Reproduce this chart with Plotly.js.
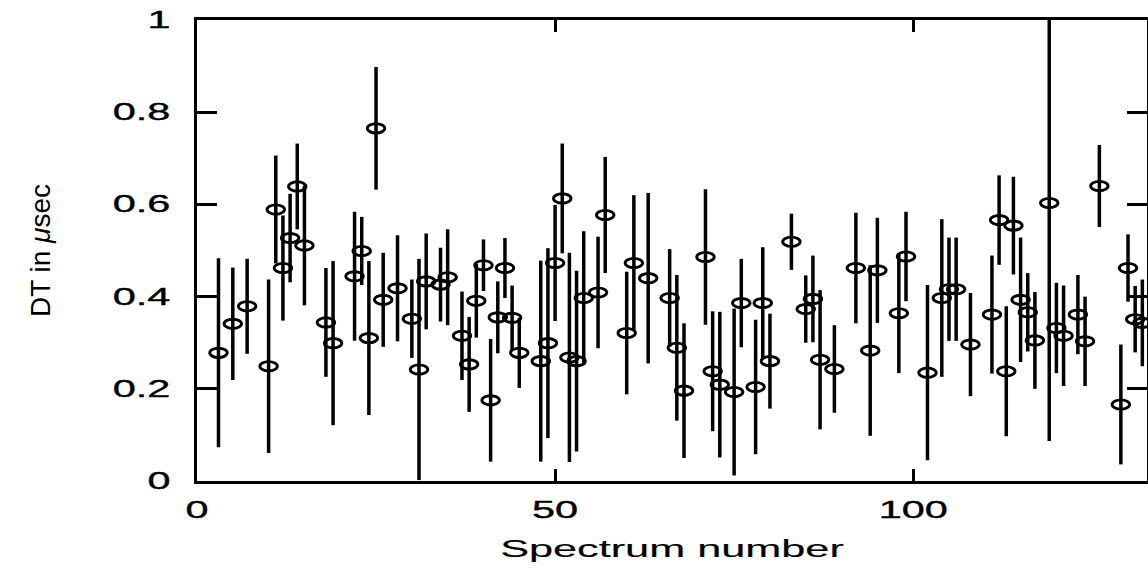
<!DOCTYPE html>
<html>
<head>
<meta charset="utf-8">
<script src="https://cdn.plot.ly/plotly-2.35.2.min.js"></script>
<style>
  html, body { margin: 0; padding: 0; background: #fff; }
  #chart { width: 1148px; height: 572px; }
</style>
</head>
<body>
<div id="chart"></div>
<script>
// Spectrum index of each measurement
const spectrum = [3,5,7,10,11,12,13,14,15,18,19,22,23,24,25,26,28,30,31,32,
  34,35,37,38,39,40,41,42,43,44,45,48,49,50,51,52,53,54,56,57,
  60,61,63,66,67,68,71,72,73,75,76,78,79,80,83,85,86,87,89,92,
  94,95,98,99,102,104,105,106,108,111,112,113,114,115,116,117,119,120,121,123,
  124,126,129,130,131,132];

// DT value (microseconds)
const dt = [0.278,0.341,0.379,0.249,0.589,0.462,0.527,0.639,0.511,0.344,
  0.299,0.444,0.499,0.310,0.765,0.393,0.418,0.352,0.242,0.433,
  0.426,0.442,0.315,0.253,0.391,0.468,0.175,0.355,0.462,0.354,
  0.278,0.260,0.299,0.473,0.613,0.268,0.260,0.397,0.409,0.577,
  0.321,0.473,0.440,0.397,0.289,0.196,0.486,0.238,0.209,0.193,
  0.386,0.204,0.386,0.260,0.519,0.373,0.395,0.263,0.243,0.462,
  0.283,0.457,0.364,0.487,0.235,0.397,0.416,0.416,0.296,0.361,
  0.566,0.238,0.554,0.393,0.366,0.305,0.603,0.332,0.315,0.361,
  0.303,0.640,0.166,0.462,0.351,0.343];

// Symmetric uncertainty on DT
const dtErr = [0.205,0.122,0.103,0.188,0.117,0.114,0.096,0.093,0.130,0.118,
  0.178,0.140,0.074,0.167,0.133,0.102,0.115,0.085,0.240,0.104,
  0.080,0.104,0.096,0.103,0.080,0.056,0.133,0.078,0.065,0.070,
  0.076,0.218,0.206,0.126,0.119,0.227,0.196,0.145,0.121,0.126,
  0.133,0.147,0.185,0.106,0.158,0.146,0.147,0.130,0.158,0.181,
  0.096,0.146,0.121,0.103,0.061,0.073,0.094,0.151,0.095,0.120,
  0.185,0.114,0.130,0.097,0.190,0.171,0.112,0.112,0.112,0.128,
  0.097,0.141,0.106,0.135,0.085,0.105,0.516,0.098,0.109,0.086,
  0.097,0.089,0.130,0.073,0.072,0.094];

const yTickVals = [0, 0.2, 0.4, 0.6, 0.8, 1];
const yTickText = ['0', '0.2', '0.4', '0.6', '0.8', '1'];
const xTickVals = [0, 50, 100];

// open elliptical symbols, sized in axis units
const RX = 1.22, RY = 0.0100;
const ellipses = spectrum.map((x, i) => ({
  type: 'circle', xref: 'x', yref: 'y', layer: 'above',
  x0: x - RX, x1: x + RX, y0: dt[i] - RY, y1: dt[i] + RY,
  line: { color: '#000', width: 2.9 }, fillcolor: 'rgba(0,0,0,0)'
}));

const trace = {
  type: 'scatter', mode: 'markers',
  x: spectrum, y: dt,
  marker: { size: 1, color: 'rgba(0,0,0,0)' },
  error_y: { type: 'data', symmetric: true, array: dtErr,
             color: '#000', thickness: 3.5, width: 0 },
  hoverinfo: 'skip', showlegend: false
};

const tickFont = { family: 'Liberation Sans, Arial, sans-serif', size: 23, color: '#000' };

const layout = {
  width: 1148, height: 572,
  paper_bgcolor: '#fff', plot_bgcolor: '#fff',
  margin: { l: 197, r: 1, t: 20, b: 91 },
  showlegend: false,
  xaxis: {
    range: [0, 132.65], tickvals: xTickVals, ticktext: xTickVals.map(String),
    ticks: 'inside', ticklen: 12, tickwidth: 3, tickcolor: '#000',
    showline: true, linewidth: 3, linecolor: '#000', mirror: 'ticks',
    showgrid: false, zeroline: false, tickfont: tickFont,
    ticklabelstandoff: 6,
    title: { text: 'Spectrum number', font: tickFont, standoff: 20 }
  },
  yaxis: {
    range: [0, 1], tickvals: yTickVals, ticktext: yTickText,
    ticks: 'inside', ticklen: 20, tickwidth: 3, tickcolor: '#000',
    showline: true, linewidth: 3, linecolor: '#000', mirror: 'ticks',
    showgrid: false, zeroline: false, tickfont: tickFont,
    ticklabelstandoff: 19,
    title: { text: 'DT in <i>μ</i>sec',
             font: { family: 'Liberation Sans, Arial, sans-serif', size: 28, color: '#000' },
             standoff: 80 }
  },
  shapes: ellipses
};

// widen axis lettering to the extended stroke style
function widen(selector, k, weight) {
  document.querySelectorAll(selector).forEach(t => {
    const w = t.getComputedTextLength();
    t.setAttribute('textLength', (w * k).toFixed(1));
    t.setAttribute('lengthAdjust', 'spacingAndGlyphs');
    t.style.stroke = '#000';
    t.style.strokeWidth = weight + 'px';
  });
}

Plotly.newPlot('chart', [trace], layout, { staticPlot: true, displayModeBar: false })
  .then(() => {
    widen('.xtick text', 1.8, 0.35);
    widen('.ytick text', 1.8, 0.35);
    widen('.xtitle', 1.88, 0.15);
  });
</script>
</body>
</html>
